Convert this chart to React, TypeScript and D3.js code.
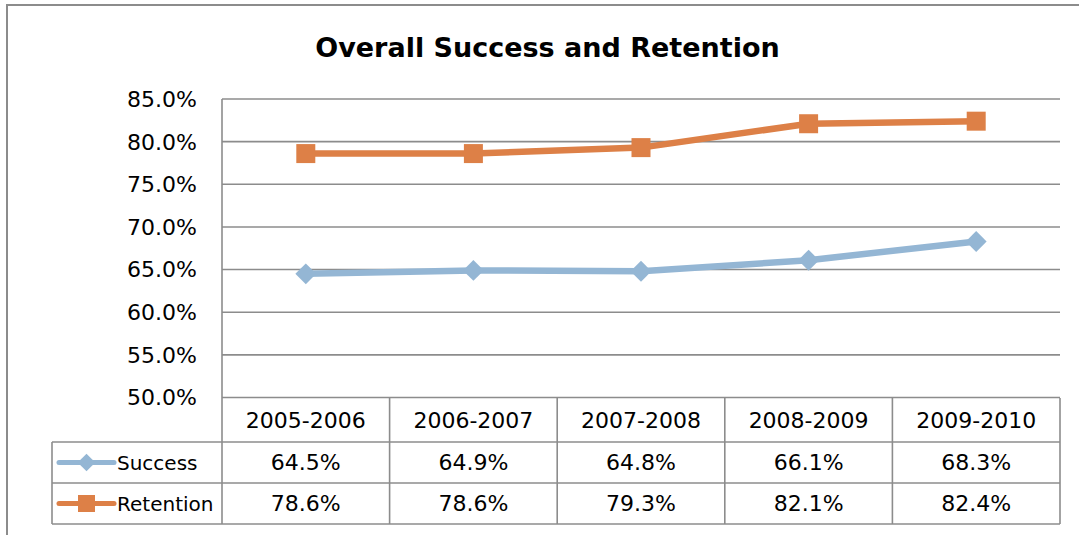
import React from 'react';
import * as d3 from 'd3';

const years = ['2005-2006', '2006-2007', '2007-2008', '2008-2009', '2009-2010'];
const successVals = [64.5, 64.9, 64.8, 66.1, 68.3];
const retentionVals = [78.6, 78.6, 79.3, 82.1, 82.4];
const yTicks = [50, 55, 60, 65, 70, 75, 80, 85];
const seriesNames = ['Success', 'Retention'];

const W = 1079, H = 535;
const plotL = 222, plotR = 1060, plotT = 99, plotB = 397.5;
const rowH = [398, 442, 483, 524];
const legL = 52;
const blue = '#94B6D4';
const orange = '#DD8047';
const grid = '#8c8c8c';
const font = '"DejaVu Sans", sans-serif';

export default function App() {
  const x = d3.scaleBand().domain(years).range([plotL, plotR]);
  const y = d3.scaleLinear().domain([50, 85]).range([plotB, plotT]);
  const cx = (d: string) => (x(d) as number) + x.bandwidth() / 2;

  const line = d3.line<number>()
    .x((_, i) => cx(years[i]))
    .y(v => y(v));

  const series = [
    { name: seriesNames[0], vals: successVals, color: blue, marker: 'diamond' },
    { name: seriesNames[1], vals: retentionVals, color: orange, marker: 'square' },
  ];

  const marker = (kind: string, px: number, py: number, s: number, color: string, key: any) =>
    kind === 'square'
      ? <rect key={key} x={px - s / 2} y={py - s / 2} width={s} height={s} fill={color} />
      : <path key={key} d={`M${px},${py - s * 0.55}L${px + s * 0.55},${py}L${px},${py + s * 0.55}L${px - s * 0.55},${py}Z`} fill={color} />;

  const fmt = d3.format('.1f');

  return (
    <svg width={W} height={H} style={{ position: 'absolute', left: 0, top: 0, background: '#fff' }}>
      <rect x={7} y={5} width={1200} height={700} fill="none" stroke={grid} strokeWidth={2} />
      <text x={547.5} y={57} textAnchor="middle" fontFamily={font} fontWeight="bold" fontSize={27}>
        Overall Success and Retention
      </text>

      {yTicks.map(t => (
        <g key={t}>
          <line x1={plotL} x2={plotR} y1={y(t)} y2={y(t)} stroke={grid} strokeWidth={1.6} />
          <text x={197} y={y(t)} dy="0.36em" textAnchor="end" fontFamily={font} fontSize={22}>{fmt(t)}%</text>
        </g>
      ))}

      {/* data table */}
      <line x1={plotL} x2={plotL} y1={plotT} y2={rowH[3]} stroke={grid} strokeWidth={1.6} />
      {years.map((yr, i) => (
        <line key={yr} x1={(x(yr) as number) + x.bandwidth()} x2={(x(yr) as number) + x.bandwidth()}
          y1={rowH[0]} y2={rowH[3]} stroke={grid} strokeWidth={1.6} />
      ))}
      <line x1={legL} x2={legL} y1={rowH[1]} y2={rowH[3]} stroke={grid} strokeWidth={1.6} />
      {[1, 2, 3].map(r => (
        <line key={r} x1={legL} x2={plotR} y1={rowH[r]} y2={rowH[r]} stroke={grid} strokeWidth={1.6} />
      ))}
      {years.map(yr => (
        <text key={yr} x={cx(yr)} y={(rowH[0] + rowH[1]) / 2} dy="0.36em" textAnchor="middle" fontFamily={font} fontSize={22}>{yr}</text>
      ))}
      {series.map((s, si) => {
        const ym = (rowH[si + 1] + rowH[si + 2]) / 2;
        return (
          <g key={s.name}>
            <line x1={59} x2={114} y1={ym} y2={ym} stroke={s.color} strokeWidth={5} strokeLinecap="round" />
            {marker(s.marker, 86.5, ym, s.marker === 'square' ? 17 : 16, s.color, 'm')}
            <text x={117} y={ym} dy="0.36em" fontFamily={font} fontSize={20}>{s.name}</text>
            {s.vals.map((v, i) => (
              <text key={i} x={cx(years[i])} y={ym} dy="0.36em" textAnchor="middle" fontFamily={font} fontSize={22}>{fmt(v)}%</text>
            ))}
          </g>
        );
      })}

      {series.map(s => (
        <g key={s.name}>
          <path d={line(s.vals) as string} fill="none" stroke={s.color} strokeWidth={6.5} strokeLinejoin="round" />
          {s.vals.map((v, i) => marker(s.marker, cx(years[i]), y(v), 19, s.color, i))}
        </g>
      ))}
    </svg>
  );
}
